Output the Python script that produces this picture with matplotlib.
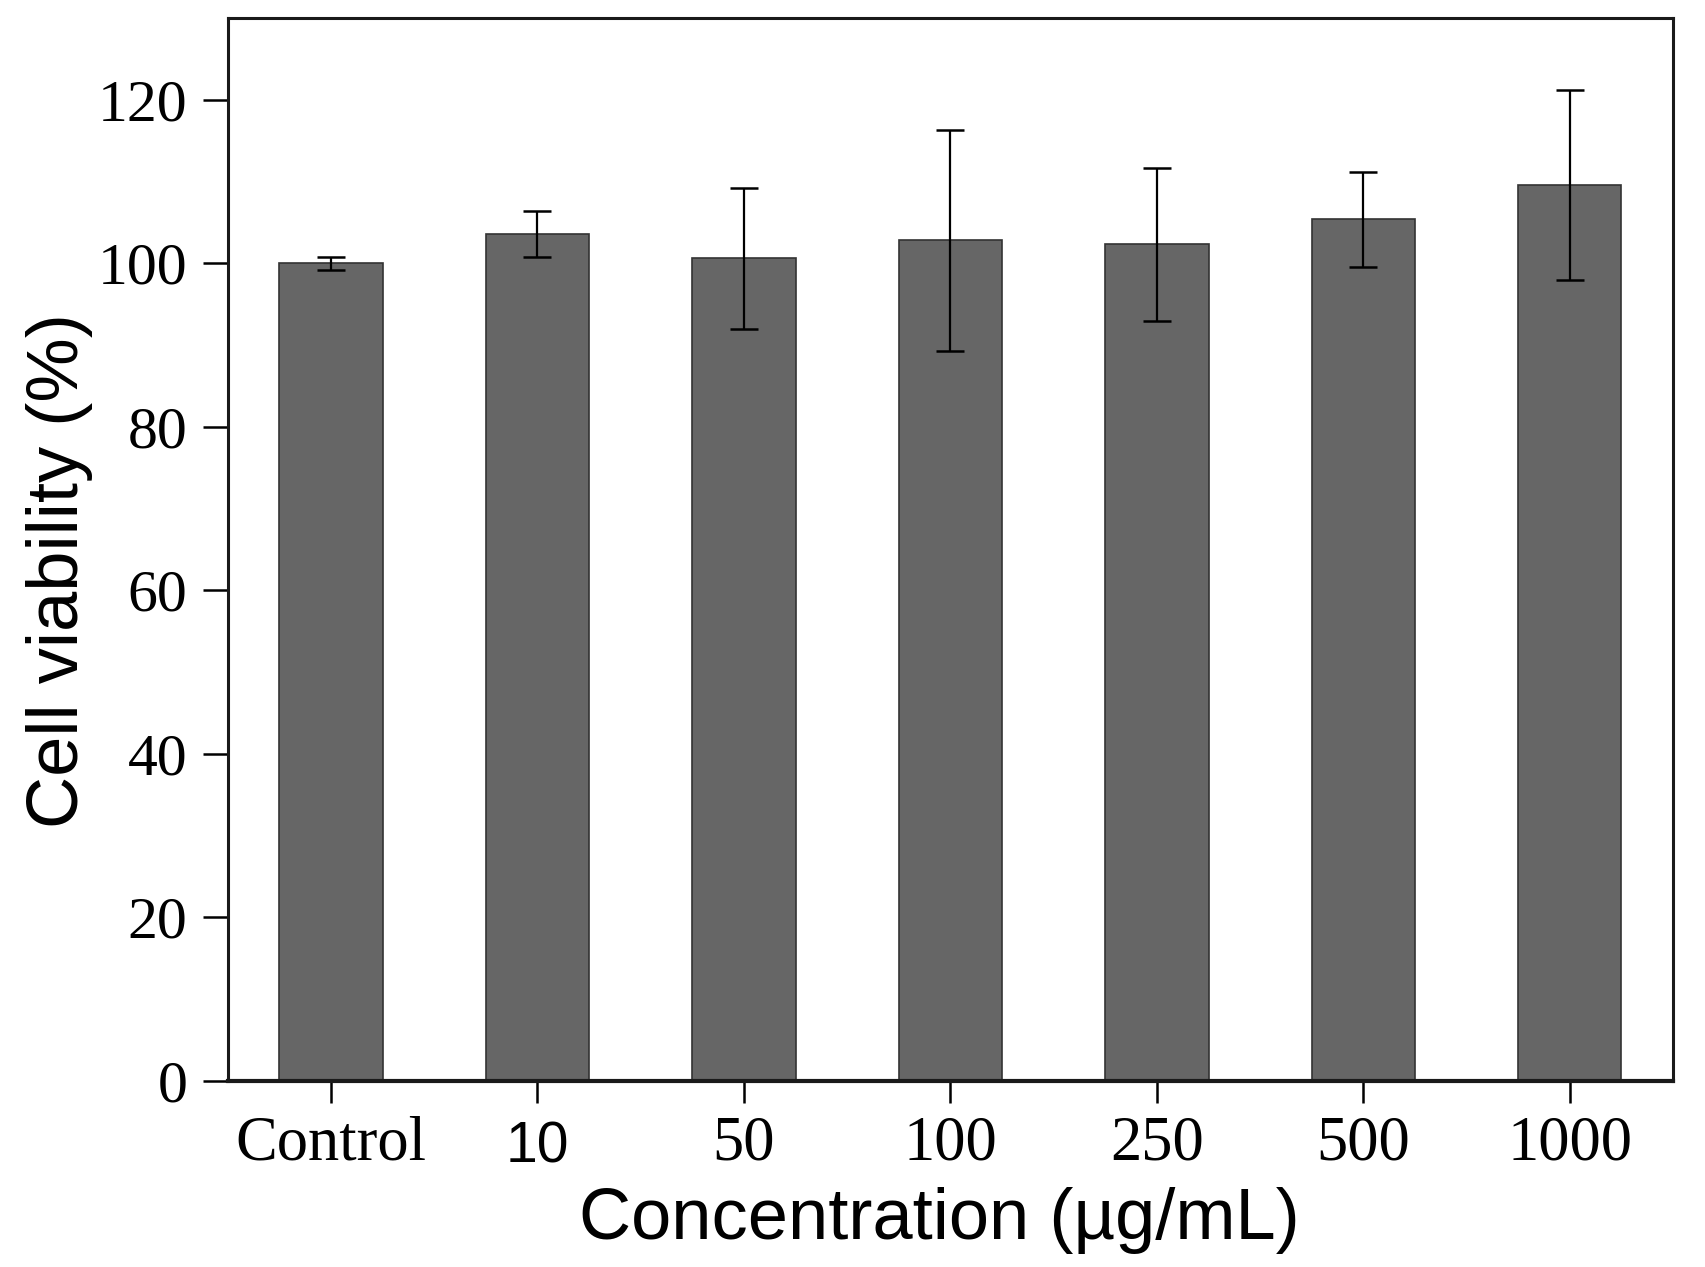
import matplotlib
matplotlib.use("Agg")
import matplotlib.pyplot as plt
import matplotlib.transforms as mtransforms
import numpy as np

categories = ["Control", "10", "50", "100", "250", "500", "1000"]
viability = [100.0, 103.6, 100.6, 102.8, 102.3, 105.4, 109.6]
errors = [0.8, 2.8, 8.6, 13.5, 9.4, 5.8, 11.6]
yticks = [0, 20, 40, 60, 80, 100, 120]

fig = plt.figure(figsize=(17.06, 12.67), dpi=100)
ax = fig.add_axes([0.1335, 0.1468, 0.8472, 0.839])

x = np.arange(len(categories))
ax.bar(x, viability, width=0.5, color="#666666", edgecolor="#333333", linewidth=1.2, zorder=2)
ax.errorbar(x, viability, yerr=errors, fmt="none", ecolor="black", elinewidth=1.6,
            capsize=10, capthick=1.8, zorder=3)

ax.set_xlim(-0.5, 6.5)
ax.set_ylim(0, 130)
ax.set_yticks(yticks)
ax.set_yticklabels([str(v) for v in yticks], family="Liberation Serif", fontsize=43)
ax.set_xticks(x)
ax.set_xticklabels(categories, family="Liberation Serif", fontsize=45)

ax.tick_params(axis="y", direction="out", length=18, width=1.8, pad=11)
ax.tick_params(axis="x", direction="out", length=16, width=1.8, pad=9)

# the "10" label is set in a sans font in the original; shift it so its baseline
# lines up with the serif labels
for lab in ax.get_xticklabels():
    if lab.get_text() == "10":
        lab.set_family("Liberation Sans")
        lab.set_fontsize(41)
        lab.set_transform(lab.get_transform() +
                          mtransforms.ScaledTranslation(0, -5 / 100, fig.dpi_scale_trans))

for s in ax.spines.values():
    s.set_linewidth(2.2)
    s.set_color("#1a1a1a")
ax.spines["bottom"].set_linewidth(3.0)

ax.set_ylabel("Cell viability (%)", family="Liberation Sans", fontsize=52)
ax.yaxis.set_label_coords(-0.093, 0.48)
ax.set_xlabel("Concentration (µg/mL)", family="Liberation Sans", fontsize=52, labelpad=9, x=0.4925)

fig.savefig("out.png", dpi=100)
